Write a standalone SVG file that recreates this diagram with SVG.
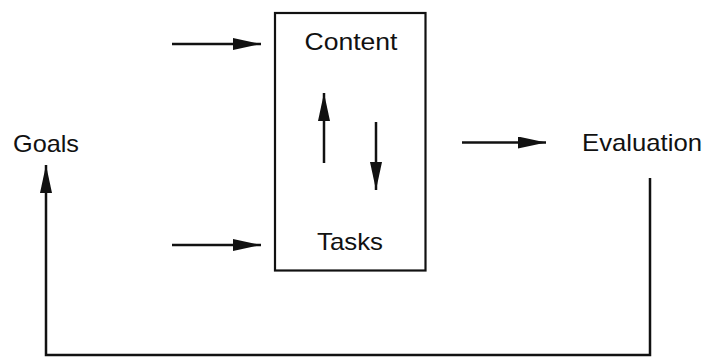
<svg xmlns="http://www.w3.org/2000/svg" width="706" height="357" viewBox="0 0 706 357">
  <style>
    .lbl { font-family: "Liberation Sans", Arial, sans-serif; font-size: 24px; fill: #111; }
    .wire { stroke: #111; stroke-width: 2.5; fill: none; }
    .box { stroke: #111; stroke-width: 2.2; fill: #fff; }
  </style>
  <defs>
    <marker id="head" viewBox="0 0 28 12" refX="28" refY="6" markerWidth="28" markerHeight="12" markerUnits="userSpaceOnUse" orient="auto">
      <path d="M0,0 L28,6 L0,12 Z" fill="#111"/>
    </marker>
  </defs>

  <rect width="706" height="357" fill="#fff"/>

  <!-- central block holding content and tasks -->
  <g id="block">
    <rect class="box" x="275" y="13" width="150.5" height="257.5"/>
    <text class="lbl" x="351" y="50" text-anchor="middle" textLength="93" lengthAdjust="spacingAndGlyphs">Content</text>
    <text class="lbl" x="350" y="250" text-anchor="middle" textLength="66" lengthAdjust="spacingAndGlyphs">Tasks</text>
  </g>

  <g id="goals">
    <text class="lbl" x="13" y="151.5" textLength="66" lengthAdjust="spacingAndGlyphs">Goals</text>
  </g>

  <g id="evaluation">
    <text class="lbl" x="582" y="151" textLength="120" lengthAdjust="spacingAndGlyphs">Evaluation</text>
  </g>

  <g id="connectors">
    <!-- inputs into the block -->
    <line class="wire" x1="172" y1="44" x2="261" y2="44" marker-end="url(#head)"/>
    <line class="wire" x1="172" y1="245" x2="261" y2="245" marker-end="url(#head)"/>
    <!-- exchange between content and tasks -->
    <line class="wire" x1="324" y1="163" x2="324" y2="93" marker-end="url(#head)"/>
    <line class="wire" x1="376" y1="122" x2="376" y2="190" marker-end="url(#head)"/>
    <!-- block to evaluation -->
    <line class="wire" x1="462" y1="142.5" x2="546" y2="142.5" marker-end="url(#head)"/>
    <!-- feedback loop from evaluation back to goals -->
    <polyline class="wire" points="650,178 650,355 46,355 46,165" marker-end="url(#head)"/>
  </g>
</svg>
